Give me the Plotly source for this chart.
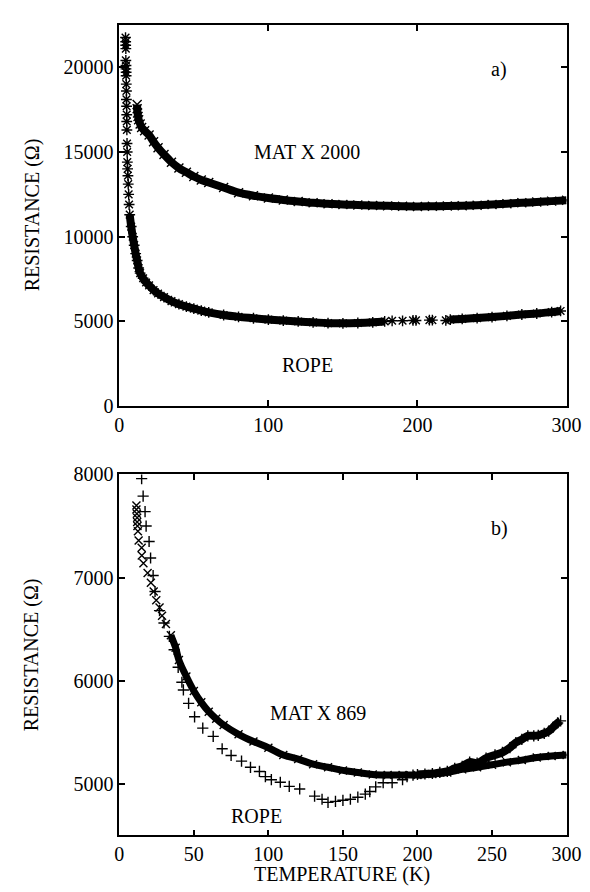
import plotly.graph_objects as go

# ---------------- DATA ----------------
# Panel a) ROPE (asterisks)
rope_a_T = [4.2, 4.3, 4.3, 4.4, 4.4, 4.5, 4.5, 4.6, 4.6, 4.7, 4.8, 4.8, 4.9, 5.0, 5.0, 5.1, 5.2, 5.3, 5.4, 5.6, 5.8, 6.0, 6.3, 6.6,
            7.0, 8.0, 9.0, 10.0, 11.0, 12.0, 13.0, 14.0, 16.0, 18.0, 20.0, 23.0, 26.0, 30.0, 35.0, 40.0, 45.0, 50.0, 55.0, 60.0,
            70.0, 80.0, 90.0, 100.0, 110.0, 120.0, 130.0, 140.0, 150.0, 160.0, 170.0, 178.0,
            183.0, 190.0, 197.0, 199.0, 208.0, 210.0, 219.0,
            222.0, 230.0, 240.0, 250.0, 260.0, 270.0, 280.0, 290.0, 296.0]
rope_a_R = [21750, 21500, 21300, 21100, 20400, 20100, 19900, 19700, 19500, 19000, 18600, 18100, 17700, 17200, 16800, 16300, 15500, 15000, 14400, 14000, 13600, 13100, 12500, 11900,
            11300, 10600, 10000, 9500, 9000, 8600, 8150, 7850, 7550, 7300, 7130, 6850, 6650, 6440, 6200, 6020, 5880, 5760, 5640, 5540,
            5380, 5270, 5190, 5110, 5050, 5000, 4950, 4900, 4890, 4910, 4950, 5000,
            5040, 5040, 5060, 5060, 5080, 5080, 5060,
            5110, 5150, 5200, 5260, 5330, 5410, 5470, 5550, 5620]
rope_a_band = [(7, 178), (222, 300)]

# Panel a) MAT X 2000 (crosses)
mat_a_T = [12.0, 12.0, 12.3, 12.6, 13.0, 14.0, 15.0, 17.0, 20.0, 23.0, 26.0, 30.0, 35.0, 40.0, 45.0, 50.0, 55.0, 60.0, 70.0, 80.0,
           90.0, 100.0, 110.0, 120.0, 130.0, 140.0, 150.0, 160.0, 170.0, 180.0, 190.0, 200.0, 210.0, 220.0, 230.0, 240.0,
           250.0, 260.0, 270.0, 280.0, 290.0, 300.0]
mat_a_R = [17800, 17550, 17300, 17100, 16900, 16650, 16450, 16250, 16000, 15600, 15250, 14850, 14400, 14050, 13800, 13550, 13350, 13200, 12900, 12600,
           12420, 12280, 12170, 12080, 12000, 11950, 11900, 11870, 11840, 11820, 11800, 11790, 11800, 11810, 11830, 11860,
           11900, 11950, 12000, 12050, 12100, 12150]
mat_a_band = [(12, 300)]

# Panel b) MAT X 869 (crosses)
mat_b_T = [11.5, 11.5, 11.8, 12.0, 12.0, 12.2, 12.5, 13.0, 15.0, 15.1, 16.2, 19.0, 21.2, 23.1, 24.8, 27.0, 28.7, 31.3, 34.6, 37.8,
           40.0, 45.0, 50.0, 55.0, 60.0, 65.0, 70.0, 80.0, 90.0, 100.0, 110.0, 120.0, 130.0, 140.0, 150.0, 160.0, 170.0,
           180.0, 190.0, 200.0, 210.0, 220.0, 230.0, 240.0, 250.0, 260.0, 270.0, 280.0, 290.0, 300.0]
mat_b_R = [7700, 7660, 7620, 7580, 7540, 7500, 7450, 7360, 7290, 7215, 7140, 7045, 6950, 6865, 6780, 6710, 6630, 6550, 6440, 6320,
           6200, 6040, 5900, 5790, 5700, 5630, 5570, 5480, 5410, 5350, 5280, 5240, 5190, 5160, 5130, 5110, 5090,
           5085, 5085, 5085, 5095, 5110, 5140, 5160, 5185, 5210, 5230, 5255, 5270, 5280]
mat_b_band = [(33, 300)]

# Panel b) ROPE (plus signs)
rope_b_T = [15.0, 16.0, 17.3, 18.0, 20.0, 21.0, 22.7, 24.0, 27.0, 30.0, 33.6, 36.8, 39.5, 42.0, 43.0, 46.5, 50.5, 56.0, 63.0, 69.0,
            75.0, 82.0, 88.0, 94.0, 98.0, 102.0, 108.0, 114.0, 121.0, 131.0, 136.0, 140.0, 145.0, 150.0, 155.0, 160.0, 165.0,
            168.0, 172.0, 177.0, 183.0, 190.0, 193.0, 197.0, 200.0, 205.0, 210.0, 215.0, 220.0, 225.0, 230.0, 235.0, 240.0,
            246.0, 252.0, 257.0, 262.0, 266.0, 270.0, 274.0, 278.0, 281.0, 285.0, 288.0, 291.0, 294.0, 296.0]
rope_b_R = [7960, 7790, 7640, 7500, 7350, 7190, 7020, 6865, 6680, 6560, 6430, 6300, 6130, 5985, 5910, 5780, 5650, 5540, 5460, 5340,
            5275, 5220, 5160, 5120, 5070, 5040, 5015, 4975, 4950, 4880, 4850, 4820, 4830, 4840, 4850, 4870, 4900,
            4925, 4970, 5010, 5010, 5040, 5070, 5085, 5090, 5095, 5100, 5110, 5120, 5150, 5170, 5210, 5200,
            5250, 5280, 5305, 5350, 5400, 5430, 5465, 5465, 5470, 5490, 5510, 5550, 5590, 5610]
rope_b_band = [(200, 300)]

x_ticks_a = [0, 100, 200, 300]
y_ticks_a = [0, 5000, 10000, 15000, 20000]
x_ticks_b = [0, 50, 100, 150, 200, 250, 300]
y_ticks_b = [5000, 6000, 7000, 8000]

# ---------------- FIGURE ----------------
FONT = "'Liberation Serif', 'Times New Roman', 'DejaVu Serif', serif"
W, H = 590, 892
fig = go.Figure()


def add_series(T, R, bands, symbol, size, band_w, xa, ya):
    for lo, hi in bands:
        bt = [t for t in T if lo <= t <= hi]
        br = [r for t, r in zip(T, R) if lo <= t <= hi]
        fig.add_trace(go.Scatter(x=bt, y=br, mode="lines", xaxis=xa, yaxis=ya,
                                 line=dict(color="black", width=band_w, shape="spline"),
                                 showlegend=False, hoverinfo="skip"))
    fig.add_trace(go.Scatter(x=T, y=R, mode="markers", xaxis=xa, yaxis=ya,
                             marker=dict(symbol=symbol, size=size, color="black",
                                         line=dict(color="black", width=1.4)),
                             showlegend=False))


add_series(rope_a_T, rope_a_R, rope_a_band, "asterisk-open", 9, 8, "x", "y")
add_series(mat_a_T, mat_a_R, mat_a_band, "x-thin-open", 9, 8, "x", "y")
add_series(mat_b_T, mat_b_R, mat_b_band, "x-thin-open", 8, 7, "x2", "y2")
add_series(rope_b_T, rope_b_R, rope_b_band, "cross-thin-open", 8, 8, "x2", "y2")

axis_common = dict(showline=True, linecolor="black", linewidth=1.5, mirror="allticks",
                   ticks="inside", ticklen=6, tickwidth=1.5, tickcolor="black",
                   showgrid=False, zeroline=False, tickformat="d",
                   tickfont=dict(family=FONT, size=20, color="black"))

fig.update_layout(
    width=W, height=H,
    margin=dict(l=0, r=0, t=0, b=0),
    paper_bgcolor="white", plot_bgcolor="white",
    font=dict(family=FONT, size=20, color="black"),
    xaxis=dict(domain=[110 / W, 573 / W], anchor="y", range=[0, 300], tickvals=x_ticks_a, **axis_common),
    yaxis=dict(domain=[(H - 397) / H, (H - 6) / H], anchor="x", range=[0, 22500], tickvals=y_ticks_a, **axis_common),
    xaxis2=dict(domain=[110 / W, 573 / W], anchor="y2", range=[0, 300], tickvals=x_ticks_b, **axis_common),
    yaxis2=dict(domain=[(H - 837) / H, (H - 467) / H], anchor="x2", range=[4500, 8000], tickvals=y_ticks_b, **axis_common),
)

txt = dict(family=FONT, size=20, color="black")
ann = [
    dict(text="a)", x=255, y=19850, xref="x", yref="y"),
    dict(text="MAT X 2000", x=126, y=15000, xref="x", yref="y"),
    dict(text="ROPE", x=126, y=2450, xref="x", yref="y"),
    dict(text="b)", x=255, y=7480, xref="x2", yref="y2"),
    dict(text="MAT X 869", x=133, y=5690, xref="x2", yref="y2"),
    dict(text="ROPE", x=92, y=4690, xref="x2", yref="y2"),
    dict(text="RESISTANCE (Ω)", x=20 / W, y=(H - 201) / H, xref="paper", yref="paper", textangle=-90),
    dict(text="RESISTANCE (Ω)", x=20 / W, y=(H - 652) / H, xref="paper", yref="paper", textangle=-90),
    dict(text="TEMPERATURE (K)", x=341 / W, y=(H - 877) / H, xref="paper", yref="paper"),
]
for a in ann:
    fig.add_annotation(showarrow=False, font=txt, xanchor="center", yanchor="middle", **a)

fig.write_html("out.html", config={"displayModeBar": False})
